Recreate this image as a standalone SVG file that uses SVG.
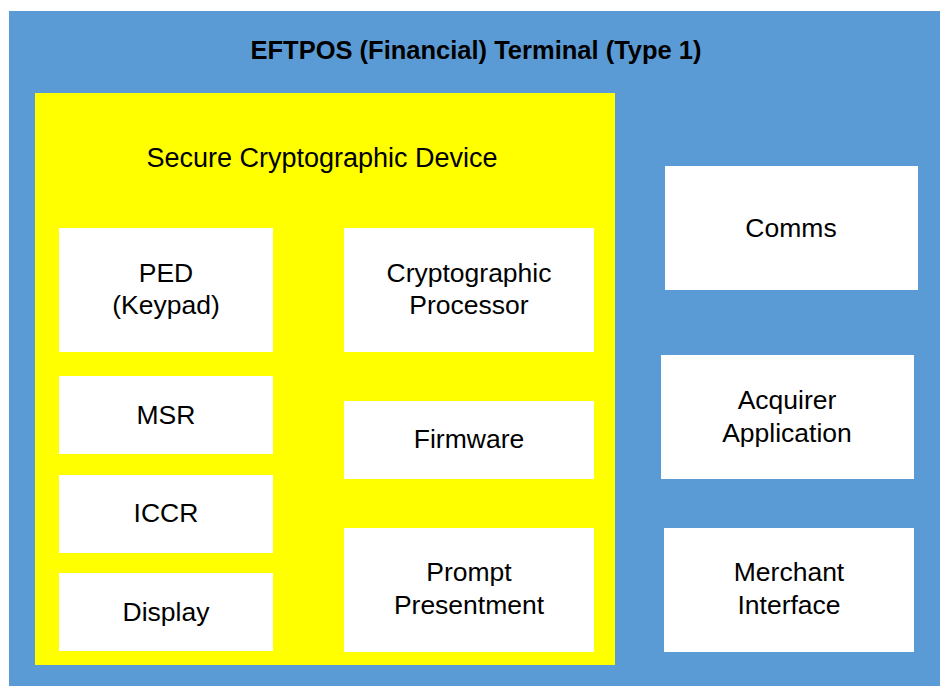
<svg xmlns="http://www.w3.org/2000/svg" width="940" height="686" viewBox="0 0 940 686">
<style>
.box{fill:#ffffff}
.lbl{font-family:"Liberation Sans",Arial,sans-serif;font-size:26.5px;fill:#000;text-anchor:middle}
.big{font-size:27px}
.ttl{font-family:"Liberation Sans",Arial,sans-serif;font-size:25.5px;font-weight:bold;fill:#000;text-anchor:middle}
</style>
<rect x="0" y="0" width="940" height="686" fill="#ffffff"/>
<g id="terminal">
<rect x="9" y="11" width="931" height="675" fill="#5B9BD5"/>
<text class="ttl" x="476" y="59">EFTPOS (Financial) Terminal (Type 1)</text>
</g>
<g id="scd">
<rect x="35" y="93" width="580" height="572" fill="#FFFF00"/>
<text class="lbl big" x="322" y="167">Secure Cryptographic Device</text>
</g>
<g id="ped"><rect class="box" x="59" y="228" width="214" height="124"/><text class="lbl" x="166" y="282">PED</text><text class="lbl" x="166" y="314">(Keypad)</text></g>
<g id="msr"><rect class="box" x="59" y="376" width="214" height="78"/><text class="lbl" x="166" y="424">MSR</text></g>
<g id="iccr"><rect class="box" x="59" y="475" width="214" height="78"/><text class="lbl" x="166" y="522">ICCR</text></g>
<g id="display"><rect class="box" x="59" y="573" width="214" height="78"/><text class="lbl" x="166" y="621">Display</text></g>
<g id="cryptoproc"><rect class="box" x="344" y="228" width="250" height="124"/><text class="lbl" x="469" y="282">Cryptographic</text><text class="lbl" x="469" y="314">Processor</text></g>
<g id="firmware"><rect class="box" x="344" y="401" width="250" height="78"/><text class="lbl" x="469" y="448">Firmware</text></g>
<g id="prompt"><rect class="box" x="344" y="528" width="250" height="124"/><text class="lbl" x="469" y="581">Prompt</text><text class="lbl" x="469" y="614">Presentment</text></g>
<g id="comms"><rect class="box" x="665" y="166" width="253" height="124"/><text class="lbl" x="791" y="237">Comms</text></g>
<g id="acquirer"><rect class="box" x="661" y="355" width="253" height="124"/><text class="lbl" x="787" y="409">Acquirer</text><text class="lbl" x="787" y="442">Application</text></g>
<g id="merchant"><rect class="box" x="664" y="528" width="250" height="124"/><text class="lbl" x="789" y="581">Merchant</text><text class="lbl" x="789" y="614">Interface</text></g>
<g id="connectors"></g>
</svg>
